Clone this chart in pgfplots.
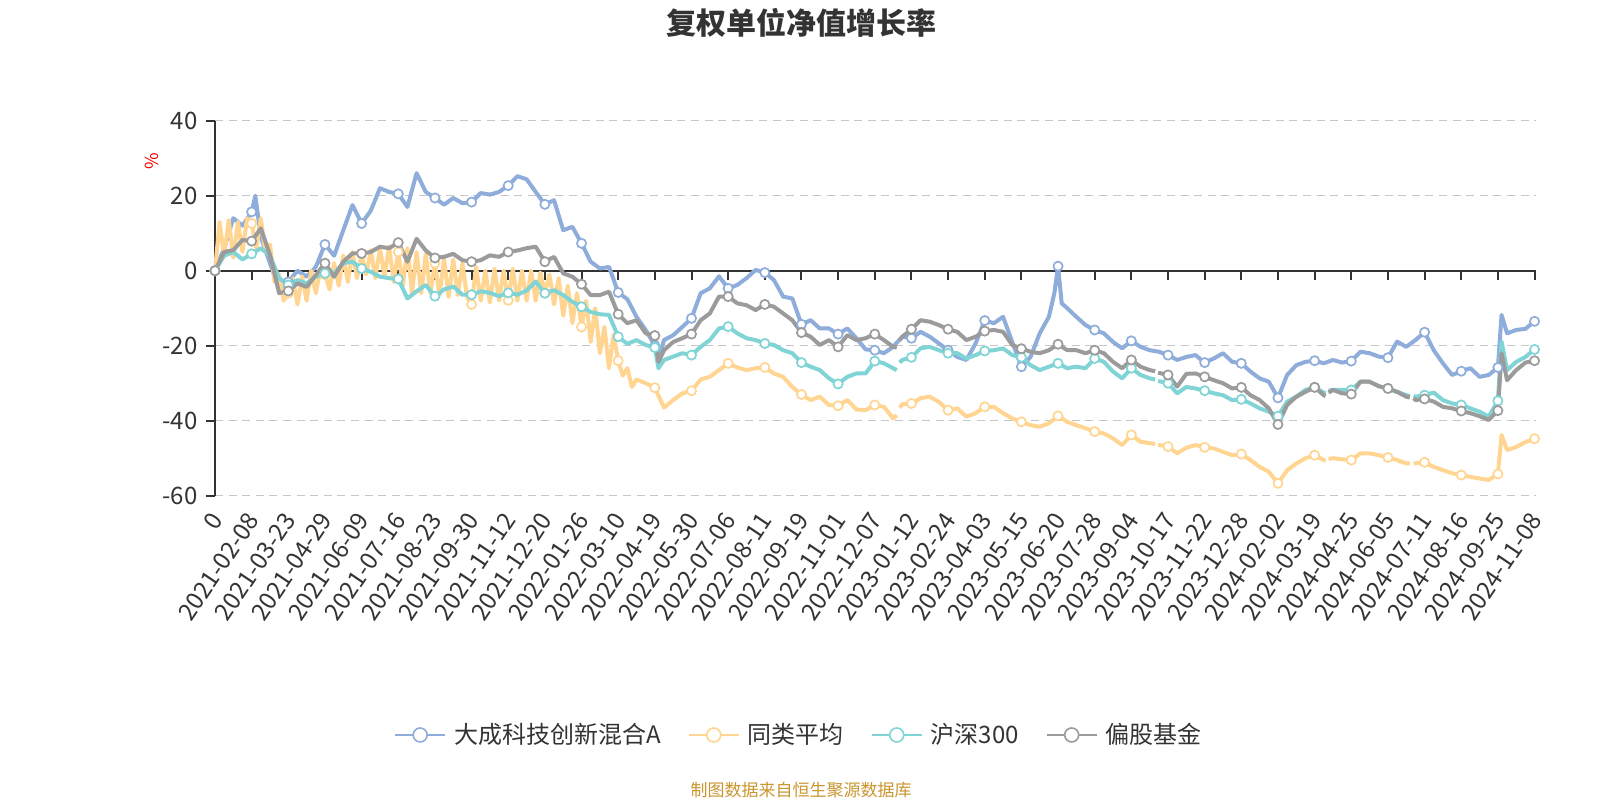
\documentclass[border=0pt]{standalone}
\usepackage{pgfplots}
\pgfplotsset{compat=1.18}
\usepackage{pgfplotstable}
\usepackage{fontspec}
\setmainfont{Noto Sans CJK SC}
\definecolor{cblue}{HTML}{8EADDB}
\definecolor{cyel}{HTML}{FFD591}
\definecolor{ccyan}{HTML}{80D4D6}
\definecolor{cgray}{HTML}{9B9B9B}
\definecolor{txt}{HTML}{333333}
\definecolor{src}{HTML}{C9952E}

\pgfplotstableread{
x y
0 0
0.25 6
0.5 14
0.75 12
1 15.7
1.1 20
1.25 9
1.5 2
1.75 -5
2 -3
2.25 0
2.5 -1.6
2.75 1
3 7
3.25 4
3.5 10.8
3.75 17.5
4 12.6
4.25 16
4.5 22
4.75 21
5 20.5
5.25 17
5.5 26
5.75 21
6 19.4
6.25 17.6
6.5 19.4
6.75 18
7 18.3
7.25 20.7
7.5 20.3
7.75 21
8 22.7
8.25 25.2
8.5 24.4
8.75 21
9 17.7
9.25 18.8
9.5 10.8
9.75 11.7
10 7.3
10.25 2.4
10.5 0.6
10.75 1
11 -5.8
11.25 -7.6
11.5 -12.3
11.75 -15.8
12 -20
12.1 -23.5
12.25 -18.5
12.5 -17.2
12.75 -15
13 -12.7
13.25 -6
13.5 -4.7
13.75 -1.5
14 -4.7
14.25 -3.8
14.5 -2
14.75 0.2
15 -0.5
15.25 -2.5
15.5 -6.9
15.75 -7.4
16 -14.3
16.25 -13.2
16.5 -15.4
16.75 -15.4
17 -16.9
17.25 -15.4
17.5 -18
17.75 -21
18 -21.2
18.25 -22
18.5 -20.3
18.75 -17.6
19 -18
19.25 -16.3
19.5 -17.6
19.75 -19.4
20 -21.2
20.25 -23
20.5 -23.8
20.75 -19.4
21 -13.3
21.25 -14
21.5 -12.3
21.75 -19
22 -25.6
22.25 -23
22.5 -16.7
22.75 -12.3
22.9 -6
23 1.2
23.1 -8.7
23.25 -10
23.5 -12.3
23.75 -14.5
24 -15.8
24.25 -16.7
24.5 -19
24.75 -20.7
25 -18.7
25.25 -20.3
25.5 -21.2
25.75 -21.6
26 -22.5
26.25 -23.8
26.5 -23
26.75 -22.5
27 -24.5
27.25 -23.4
27.5 -22
27.75 -24.3
28 -24.7
28.25 -26.9
28.5 -28.7
28.75 -29.6
29 -33.9
29.25 -27.8
29.5 -25.2
29.75 -24.3
30 -24
30.25 -24.7
30.5 -23.8
30.75 -24.5
31 -24.1
31.25 -21.6
31.5 -22
31.75 -22.9
32 -23.2
32.25 -18.9
32.5 -20.3
32.75 -18.5
33 -16.4
33.25 -21.2
33.5 -24.7
33.75 -27.8
34 -26.8
34.25 -26
34.5 -28.3
34.75 -27.8
35 -25.8
35.1 -11.8
35.25 -16.7
35.5 -15.8
35.75 -15.5
36 -13.5
}\tblue

\pgfplotstableread{
x y
0 0
0.125 13
0.25 4
0.375 13.5
0.5 3.5
0.625 13
0.75 5
0.875 14
1 12.6
1.125 6
1.25 14
1.375 5
1.5 7
1.625 -3
1.75 -1
1.875 -8
2 -6
2.125 -2
2.25 -9
2.375 -1.5
2.5 -8
2.625 0
2.75 -6
2.875 0.5
3 -1
3.125 -5
3.25 2
3.375 -4
3.5 4
3.625 -3
3.75 5
3.875 -2
4 4.5
4.125 -1
4.25 5.5
4.375 -2
4.5 6
4.625 -1.5
4.75 6.5
4.875 -3
5 5
5.125 -4
5.25 6
5.375 -6
5.5 5
5.625 -6
5.75 4.5
5.875 -6
6 2
6.125 -6.5
6.25 3
6.375 -7
6.5 3
6.625 -6.5
6.75 2
6.875 -7
7 -9
7.125 1
7.25 -8
7.375 0
7.5 -8.5
7.625 0.5
7.75 -8
7.875 0
8 -7.9
8.125 0.5
8.25 -8
8.375 0
8.5 -8
8.625 0
8.75 -8
8.875 -0.5
9 -6
9.125 -1
9.25 -9
9.375 -2
9.5 -12
9.625 -4
9.75 -14
9.875 -6
10 -15
10.125 -8
10.25 -19
10.375 -10
10.5 -22
10.625 -15
10.75 -26
10.875 -17
11 -24
11.125 -28
11.25 -26
11.375 -31
11.5 -29
11.75 -30
12 -31.2
12.25 -36.5
12.5 -34.5
12.75 -32.7
13 -32
13.25 -29
13.5 -28.3
13.75 -26.5
14 -24.7
14.25 -25.8
14.5 -26.5
14.75 -26
15 -25.8
15.25 -27.4
15.5 -28.3
15.75 -31
16 -33
16.25 -34.5
16.5 -33.6
16.75 -35.8
17 -36
17.25 -34.5
17.5 -37
17.75 -37.2
18 -35.8
18.25 -36.3
18.5 -39.4
18.6 -38.5
18.64 nan
18.68 -36.5
18.75 -35.6
19 -35.4
19.25 -34
19.5 -33.6
19.75 -35
20 -37.2
20.25 -36.7
20.5 -38.9
20.75 -38
21 -36.3
21.25 -36.3
21.5 -38
21.75 -39.4
22 -40.3
22.25 -41.2
22.5 -41.6
22.75 -40.7
23 -38.7
23.25 -40.3
23.5 -41.2
23.75 -42
24 -42.9
24.25 -43.4
24.5 -44.7
24.75 -46.5
25 -43.8
25.25 -45.6
25.5 -46
25.65 -46.2
25.69 nan
25.73 -46.4
26 -46.9
26.25 -48.7
26.5 -47.2
26.75 -46.5
27 -47.1
27.25 -47.4
27.5 -48.3
27.75 -49.2
28 -48.9
28.25 -50.5
28.5 -52.3
28.75 -53.6
29 -56.7
29.25 -53.2
29.5 -51.4
29.75 -50
30 -49.2
30.25 -50.5
30.3 -50.6
30.33 nan
30.38 -50.2
30.5 -50
30.75 -50.3
31 -50.5
31.25 -48.7
31.5 -48.7
31.75 -49.2
32 -49.8
32.25 -50.5
32.5 -51.4
32.6 -51.4
32.65 nan
32.7 -51.4
33 -51.1
33.25 -52.3
33.5 -53.2
33.75 -54
34 -54.5
34.25 -55
34.5 -55.4
34.75 -55.8
35 -54.2
35.1 -43.8
35.25 -47.8
35.5 -47
35.75 -45.7
36 -44.8
}\tyel

\pgfplotstableread{
x y
0 0
0.25 4
0.5 5
0.75 3
1 4.5
1.25 6
1.5 4
1.75 -2
2 -3.8
2.25 -2.5
2.5 -3.4
2.75 -1.6
3 -0.7
3.25 -0.7
3.5 2
3.75 2.4
4 0.6
4.25 -0.3
4.5 -1.6
4.75 -2
5 -2.2
5.25 -7.4
5.5 -5.5
5.75 -3.8
6 -6.8
6.25 -5
6.5 -4.2
6.75 -6.4
7 -6.4
7.25 -5.5
7.5 -5.9
7.75 -6.8
8 -5.9
8.25 -6.4
8.5 -5.3
8.75 -2.9
9 -6
9.25 -5.2
9.5 -6.5
9.75 -8.3
10 -9.6
10.25 -11
10.5 -11.6
10.75 -11.8
11 -17.6
11.25 -19.5
11.5 -18.5
11.75 -19.8
12 -20.5
12.1 -26
12.25 -23.8
12.5 -22.9
12.75 -22
13 -22.5
13.25 -20.3
13.5 -18.5
13.75 -15.4
14 -14.9
14.25 -16.7
14.5 -18
14.75 -18.5
15 -19.4
15.25 -19.8
15.5 -21.2
15.75 -22
16 -24.5
16.25 -25.6
16.5 -26.5
16.75 -28.7
17 -30.2
17.25 -28.3
17.5 -27.4
17.75 -27.4
18 -24.1
18.25 -24.7
18.5 -26
18.6 -26.5
18.64 nan
18.68 -24.5
18.75 -23.8
19 -23.1
19.25 -20.7
19.5 -20.3
19.75 -21.2
20 -22
20.25 -22
20.5 -23.4
20.75 -22.5
21 -21.4
21.25 -21.2
21.5 -20.7
21.75 -22.5
22 -23.1
22.25 -25.2
22.5 -26.5
22.75 -25.6
23 -24.7
23.25 -26
23.5 -25.6
23.75 -26
24 -23.4
24.25 -24.3
24.5 -26.9
24.75 -28.7
25 -26
25.25 -27.8
25.5 -28.7
25.65 -29
25.69 nan
25.73 -29.4
26 -30
26.25 -32.7
26.5 -31
26.75 -31.4
27 -32
27.25 -32.7
27.5 -33.2
27.75 -34.5
28 -34.3
28.25 -35.4
28.5 -36.7
28.75 -37.6
29 -38.8
29.25 -34.9
29.5 -33.6
29.75 -31.8
30 -31.1
30.25 -32.5
30.3 -32.7
30.33 nan
30.38 -32
30.5 -31.8
30.75 -31.8
31 -31.8
31.25 -29.6
31.5 -29.6
31.75 -30.8
32 -31.4
32.25 -32.3
32.5 -33.2
32.6 -33.4
32.65 nan
32.7 -33.4
32.75 -33.6
33 -33.2
33.25 -32.5
33.5 -34.5
33.75 -35.4
34 -35.8
34.25 -36.7
34.5 -37.6
34.75 -38.9
35 -34.7
35.1 -18.9
35.25 -26.5
35.5 -24.3
35.75 -23
36 -21
}\tcyan

\pgfplotstableread{
x y
0 0
0.25 5
0.5 5.5
0.75 8.2
1 7.9
1.25 11.3
1.5 4.2
1.75 -6
2 -5.4
2.25 -3.4
2.5 -4.3
2.75 -1.2
3 2
3.25 -1.6
3.5 2.4
3.75 4.6
4 4.6
4.25 5
4.5 6.4
4.75 6
5 7.5
5.25 2.4
5.5 8.5
5.75 5.4
6 3.4
6.25 3.7
6.5 4.5
6.75 2.8
7 2.4
7.25 2.8
7.5 4.1
7.75 3.7
8 5
8.25 5.4
8.5 6
8.75 6.4
9 2.4
9.25 3.7
9.5 -0.7
9.75 -1.6
10 -3.6
10.25 -6.5
10.5 -6.5
10.75 -5.6
11 -11.6
11.25 -14
11.5 -13.2
11.75 -16.7
12 -17.3
12.1 -24.3
12.25 -21.2
12.5 -19
12.75 -18
13 -16.9
13.25 -13.2
13.5 -11.4
13.75 -6.9
14 -6.9
14.25 -8.7
14.5 -9.2
14.75 -10.5
15 -9
15.25 -9.6
15.5 -11.4
15.75 -13.2
16 -16.5
16.25 -17.6
16.5 -19.8
16.75 -18.5
17 -20.3
17.25 -17.2
17.5 -18.5
17.75 -18
18 -16.9
18.25 -18.5
18.5 -20.3
18.6 -20.5
18.64 nan
18.68 -18.5
18.75 -17.6
19 -15.6
19.25 -13.2
19.5 -13.6
19.75 -14.5
20 -15.6
20.25 -16.3
20.5 -18.5
20.75 -17.6
21 -16.1
21.25 -15.8
21.5 -16.3
21.75 -19.8
22 -20.8
22.25 -21.6
22.5 -22
22.75 -21.2
23 -19.6
23.25 -21.2
23.5 -21.2
23.75 -22
24 -21.2
24.25 -22
24.5 -24.3
24.75 -26
25 -23.8
25.25 -25.6
25.5 -26.5
25.65 -26.8
25.69 nan
25.73 -27.2
26 -27.8
26.25 -30.9
26.5 -27.5
26.75 -27.4
27 -28.3
27.25 -29.2
27.5 -30
27.75 -31.4
28 -31.1
28.25 -33.2
28.5 -34.5
28.75 -36.7
29 -41
29.25 -35.8
29.5 -33.6
29.75 -32.3
30 -31.1
30.25 -33.2
30.3 -33.4
30.33 nan
30.38 -32.5
30.5 -31.8
30.75 -32.7
31 -32.9
31.25 -29.6
31.5 -29.6
31.75 -30.8
32 -31.4
32.25 -32.3
32.5 -33.6
32.6 -33.8
32.65 nan
32.7 -34
32.75 -34.5
33 -34.2
33.25 -34.9
33.5 -36.3
33.75 -36.7
34 -37.4
34.25 -38
34.5 -38.8
34.75 -39.8
35 -37.3
35.1 -22
35.25 -29.2
35.5 -26.5
35.75 -24.5
36 -24
}\tgray

\pgfplotsset{
  serline/.style={line width=2pt, line join=round, forget plot, unbounded coords=jump},
  sermark/.style={only marks, mark=*, mark size=2.3pt, forget plot,
    mark options={fill=white, line width=0.85pt, solid},
    x filter/.expression={abs(x-round(x))<0.01 ? x : nan}},
}

\begin{document}
\begin{tikzpicture}
\useasboundingbox (-107.5pt,-152.15pt) rectangle (692.5pt,247.85pt);
\begin{axis}[
  at={(0pt,0pt)}, anchor=south west,
  scale only axis, width=660.5pt, height=187.5pt,
  xmin=0, xmax=36.04, ymin=-60, ymax=40,
  clip=false,
  axis lines*=left,
  x axis line style={draw=none},
  y axis line style={draw=txt, line width=1pt},
  xtick={0,...,36},
  xticklabels={0,2021-02-08,2021-03-23,2021-04-29,2021-06-09,2021-07-16,2021-08-23,2021-09-30,2021-11-12,2021-12-20,2022-01-26,2022-03-10,2022-04-19,2022-05-30,2022-07-06,2022-08-11,2022-09-19,2022-11-01,2022-12-07,2023-01-12,2023-02-24,2023-04-03,2023-05-15,2023-06-20,2023-07-28,2023-09-04,2023-10-17,2023-11-22,2023-12-28,2024-02-02,2024-03-19,2024-04-25,2024-06-05,2024-07-11,2024-08-16,2024-09-25,2024-11-08},
  x tick style={draw=none},
  ytick={-60,-40,-20,0,20,40},
  y tick style={draw=txt, line width=1pt},
  tick align=outside,
  major tick length=4.5pt,
  ymajorgrids,
  grid style={draw=black!22, line width=0.7pt, dash pattern=on 4pt off 2.8pt},
  /pgf/number format/assume math mode=true,
  xticklabel style={xshift=0.8pt, yshift=-5.5pt, rotate=56, anchor=east, inner sep=0pt, text=txt, font=\fontsize{12}{12}\selectfont},
  yticklabel style={anchor=east, inner sep=0pt, xshift=-4pt, text=txt, font=\fontsize{12}{12}\selectfont},
  legend style={at={(0.4428,-0.638)}, anchor=center, draw=none, fill=none,
    legend columns=-1, font=\fontsize{12}{12}\selectfont, text=txt,
    /tikz/every even column/.append style={column sep=11.5pt},
    /tikz/every odd column/.append style={column sep=2pt}},
  legend image code/.code={
    \draw[#1, line width=1pt] (0pt,0pt) -- (25pt,0pt);
    \draw[#1, line width=0.8pt, fill=white] (12.5pt,0pt) circle (3.5pt);
  },
]
\draw[txt, line width=1pt] (axis cs:0,0) -- (axis cs:36.04,0);
\pgfplotsinvokeforeach{0,...,36}{\draw[txt, line width=1pt] (axis cs:#1,0) -- ++(0pt,-4.5pt);}

\addplot[cblue, serline] table {\tblue};
\addplot[cblue, sermark] table {\tblue};
\addplot[cyel, serline] table {\tyel};
\addplot[cyel, sermark] table {\tyel};
\addplot[ccyan, serline] table {\tcyan};
\addplot[ccyan, sermark] table {\tcyan};
\addplot[cgray, serline] table {\tgray};
\addplot[cgray, sermark] table {\tgray};

\addlegendimage{cblue}
\addlegendentry{大成科技创新混合A}
\addlegendimage{cyel}
\addlegendentry{同类平均}
\addlegendimage{ccyan}
\addlegendentry{沪深300}
\addlegendimage{cgray}
\addlegendentry{偏股基金}
\end{axis}
\node[font=\fontsize{15}{15}\selectfont\bfseries, text=txt] at (293pt,236.6pt) {复权单位净值增长率};
\node[rotate=90, text=red, font=\fontsize{9}{9}\selectfont] at (-31.5pt,167pt) {\%};
\node[text=src, font=\fontsize{8.5}{8.5}\selectfont] at (293pt,-147.15pt) {制图数据来自恒生聚源数据库};
\end{tikzpicture}
\end{document}
